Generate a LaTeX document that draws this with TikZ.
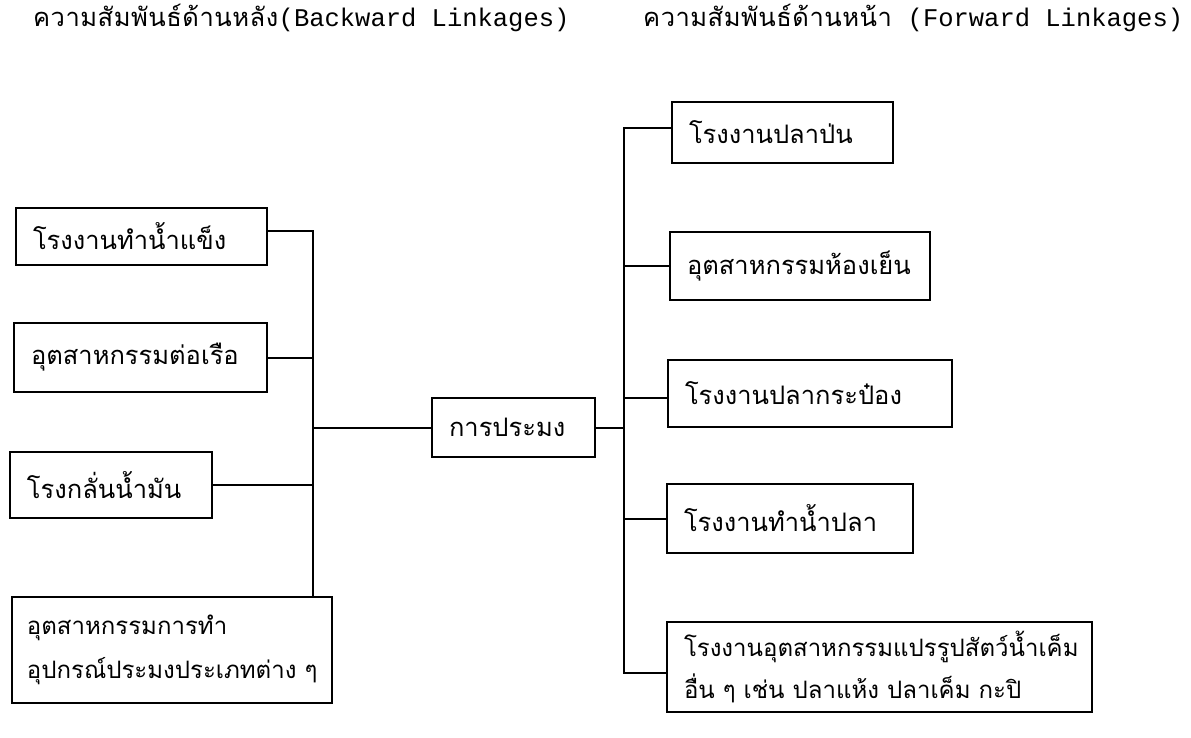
\documentclass[tikz,border=0pt]{standalone}
\usepackage{fontspec}
\setmonofont{Liberation Mono}
\newfontfamily\thaibox[Script=Thai]{Loma}
\newfontfamily\thaihead[Script=Thai,LetterSpace=2]{Loma}
\tikzset{
  box/.style={draw, line width=2pt, rectangle, inner xsep=17pt, inner ysep=0pt, align=left,
    font=\thaibox\fontsize{25.5}{44}\selectfont},
  small/.style={font=\thaibox\fontsize{24}{44}\selectfont},
  link/.style={line width=2pt},
  head/.style={inner sep=0pt, anchor=west, font=\fontsize{25.5}{30}\selectfont}
}
\begin{document}
\begin{tikzpicture}[x=1pt,y=-1pt]
\useasboundingbox (0,0) rectangle (1191,737);
\fill[white] (0,0) rectangle (1191,737);
% headers
\node[head] (hl) at (33,18) {{\thaihead ความสัมพันธ์ด้านหลัง}\texttt{(Backward Linkages)}};
\node[head] (hr) at (643,18) {{\thaihead ความสัมพันธ์ด้านหน้า}\texttt{ (Forward Linkages)}};
% left boxes
\node[box, text width=217pt, minimum height=57pt] (L1) at (141.5,236.5) {โรงงานทำน้ำแข็ง};
\node[box, text width=219pt, minimum height=69pt] (L2) at (140.5,357.5) {อุตสาหกรรมต่อเรือ};
\node[box, text width=168pt, minimum height=66pt] (L3) at (111,485) {โรงกลั่นน้ำมัน};
\node[box, small, text width=290pt, inner xsep=15pt, minimum height=106pt] (L4) at (172,650) {อุตสาหกรรมการทำ\\อุปกรณ์ประมงประเภทต่าง~ๆ};
% centre
\node[box, text width=129pt, minimum height=59pt] (C) at (513.5,427.5) {การประมง};
% right boxes
\node[box, text width=187pt, minimum height=61pt] (R1) at (782.5,132.5) {โรงงานปลาป่น};
\node[box, text width=226pt, minimum height=68pt] (R2) at (800,266) {อุตสาหกรรมห้องเย็น};
\node[box, text width=250pt, minimum height=67pt] (R3) at (810,393.5) {โรงงานปลากระป๋อง};
\node[box, text width=212pt, minimum height=69pt] (R4) at (790,518.5) {โรงงานทำน้ำปลา};
\node[box, text width=391pt, minimum height=90pt, font=\thaibox\fontsize{24}{42}\selectfont] (R5) at (879.5,667) {โรงงานอุตสาหกรรมแปรรูปสัตว์น้ำเค็ม\\อื่น~ๆ เช่น ปลาแห้ง ปลาเค็ม กะปิ};
% buses
\coordinate (lbus) at (313,427.5);
\coordinate (rbus) at (624,427.5);
\coordinate (L1c) at ([yshift=5.5pt]L1.east);
\coordinate (R1c) at ([yshift=4.5pt]R1.west);
\coordinate (R3c) at ([yshift=-4.5pt]R3.west);
\coordinate (R5c) at ([yshift=-6pt]R5.west);
\draw[link] (L1c) -- (L1c -| lbus) -- (lbus |- L4.north);
\draw[link] (L2.east) -- (L2.east -| lbus);
\draw[link] (L3.east) -- (L3.east -| lbus);
\draw[link] (lbus) -- (C.west);
\draw[link] (C.east) -- (rbus);
\draw[link] (R1c) -- (R1c -| rbus) -- (R5c -| rbus) -- (R5c);
\draw[link] (R2.west) -- (R2.west -| rbus);
\draw[link] (R3c) -- (R3c -| rbus);
\draw[link] (R4.west) -- (R4.west -| rbus);
\end{tikzpicture}
\end{document}
